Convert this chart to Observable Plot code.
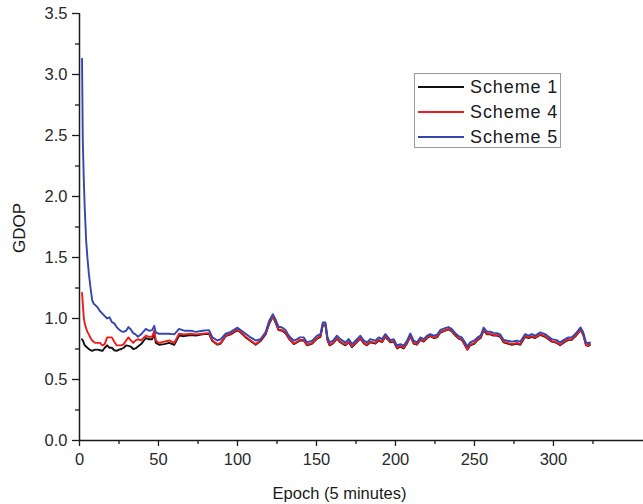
<!DOCTYPE html>
<html>
<head>
<meta charset="utf-8">
<script src="https://cdn.jsdelivr.net/npm/d3@7"></script>
<script src="https://cdn.jsdelivr.net/npm/@observablehq/plot@0.6"></script>
<style>
  html, body { margin: 0; padding: 0; background: #fff; }
  #wrap { position: relative; width: 643px; height: 504px; font-family: "Liberation Sans", Arial, sans-serif; }
  #legend { position: absolute; left: 414px; top: 73px; width: 147px; height: 75px; border: 1px solid #9a9a9a; background: #fff; box-sizing: border-box; }
  .item { position: absolute; left: 0; height: 20px; display: flex; align-items: center; }
  .swatch { width: 46px; height: 2px; margin-left: 3px; margin-right: 6px; }
  .lab { font-size: 18px; letter-spacing: 0.9px; color: #1a1a1a; line-height: 20px; }
</style>
</head>
<body>
<div id="wrap"></div>
<script>
// ---- data ----
const epoch = [
  1.6, 2.1, 2.7, 3.3, 4.2, 5, 5.9, 7, 8, 9, 10, 11.5, 13, 14.5, 16, 17.5, 19, 20.5, 22, 23.5, 25, 26.5, 28, 29.5, 31, 32.5, 34, 35.5, 37,
  39, 42, 44, 46, 47.3, 48.3, 50.4, 53.6, 56.7, 60, 63, 66.2, 70.4, 73.6, 77.8, 82, 84.1, 87.3, 89.4, 92.5, 95.7, 100, 102, 105.2, 108.3, 111.5, 114.6, 117.8,
  120, 122.4, 124, 126, 128.3, 130.4, 132.5, 135.7, 137.8, 139.5, 142, 144, 147.3, 150.4, 152.5, 154, 155.7, 157, 158.3, 160.5, 163, 165, 168.3, 170.4, 172.5, 174.7, 177.8, 180, 182, 184, 187.3, 189.4, 191.5, 193.6,
  196.8, 198.9, 201, 203.1, 205.2, 207.3, 209.4, 211.5, 213.6, 215.7, 217.9, 220, 222, 224.2, 226.3, 228.4, 231.5, 233.6, 235.7, 237.9, 240, 242, 244, 245.5, 247.3, 250, 252, 254, 255.8, 257.9, 260, 262, 264.2, 266.3, 268.4, 271, 273.7, 276.8, 279, 282.1, 284.2, 286.3, 288.4, 291.6, 294.7, 298.9, 302.1, 304.2, 307.4, 309.5, 311.6, 314.7, 317.2, 318.9, 320.6, 322.1, 323.1
];
const scheme1 = [
  0.83, 0.82, 0.80, 0.78, 0.77, 0.76, 0.75, 0.74, 0.735, 0.74, 0.745, 0.745, 0.74, 0.735, 0.76, 0.78, 0.76, 0.76, 0.74, 0.735, 0.745, 0.75, 0.76, 0.78, 0.775, 0.77, 0.75, 0.755, 0.77,
  0.79, 0.84, 0.83, 0.83, 0.88, 0.80, 0.785, 0.79, 0.80, 0.785, 0.86, 0.855, 0.865, 0.86, 0.87, 0.875, 0.815, 0.785, 0.795, 0.855, 0.87, 0.905, 0.885, 0.845, 0.815, 0.785, 0.815, 0.87,
  0.955, 1.015, 0.97, 0.905, 0.90, 0.88, 0.835, 0.79, 0.805, 0.82, 0.82, 0.78, 0.795, 0.835, 0.85, 0.945, 0.945, 0.82, 0.78, 0.795, 0.835, 0.805, 0.78, 0.805, 0.765, 0.795, 0.835, 0.795, 0.78, 0.805, 0.795, 0.82, 0.805, 0.85,
  0.805, 0.81, 0.755, 0.77, 0.755, 0.795, 0.855, 0.795, 0.785, 0.825, 0.81, 0.84, 0.855, 0.84, 0.845, 0.885, 0.90, 0.91, 0.895, 0.86, 0.835, 0.825, 0.78, 0.745, 0.78, 0.795, 0.825, 0.84, 0.905, 0.87, 0.87, 0.86, 0.86, 0.85, 0.805, 0.795, 0.785, 0.795, 0.785, 0.85, 0.84, 0.85, 0.84, 0.865, 0.85, 0.81, 0.80, 0.78, 0.81, 0.825, 0.825, 0.865, 0.905, 0.865, 0.78, 0.775, 0.785
];
const scheme4 = [
  1.21, 1.12, 1.01, 0.96, 0.92, 0.89, 0.87, 0.84, 0.82, 0.81, 0.80, 0.80, 0.80, 0.78, 0.79, 0.845, 0.845, 0.845, 0.81, 0.78, 0.78, 0.78, 0.79, 0.82, 0.845, 0.82, 0.80, 0.82, 0.83,
  0.82, 0.86, 0.85, 0.85, 0.90, 0.82, 0.80, 0.81, 0.82, 0.80, 0.875, 0.87, 0.875, 0.87, 0.875, 0.88, 0.82, 0.79, 0.80, 0.86, 0.875, 0.91, 0.89, 0.85, 0.82, 0.79, 0.82, 0.875,
  0.96, 1.02, 0.975, 0.91, 0.905, 0.885, 0.84, 0.795, 0.81, 0.825, 0.825, 0.785, 0.80, 0.84, 0.855, 0.95, 0.95, 0.825, 0.785, 0.80, 0.84, 0.81, 0.785, 0.81, 0.77, 0.80, 0.84, 0.80, 0.785, 0.81, 0.80, 0.825, 0.81, 0.855,
  0.81, 0.815, 0.76, 0.775, 0.76, 0.80, 0.86, 0.80, 0.79, 0.83, 0.815, 0.845, 0.86, 0.845, 0.85, 0.89, 0.905, 0.915, 0.90, 0.865, 0.84, 0.83, 0.785, 0.745, 0.785, 0.80, 0.83, 0.845, 0.91, 0.875, 0.875, 0.865, 0.865, 0.855, 0.81, 0.80, 0.79, 0.80, 0.79, 0.855, 0.845, 0.855, 0.845, 0.87, 0.855, 0.815, 0.805, 0.785, 0.815, 0.83, 0.83, 0.87, 0.91, 0.87, 0.785, 0.78, 0.79
];
const scheme5 = [
  3.13, 2.45, 2.15, 1.91, 1.64, 1.50, 1.37, 1.25, 1.15, 1.12, 1.11, 1.09, 1.06, 1.04, 1.02, 1.00, 1.01, 0.97, 0.96, 0.93, 0.91, 0.895, 0.89, 0.90, 0.93, 0.91, 0.88, 0.87, 0.85,
  0.87, 0.915, 0.90, 0.905, 0.94, 0.885, 0.875, 0.875, 0.875, 0.87, 0.915, 0.90, 0.90, 0.89, 0.90, 0.905, 0.845, 0.82, 0.83, 0.875, 0.89, 0.925, 0.905, 0.875, 0.845, 0.82, 0.83, 0.89,
  0.98, 1.035, 0.995, 0.932, 0.926, 0.905, 0.859, 0.818, 0.831, 0.845, 0.845, 0.804, 0.818, 0.859, 0.872, 0.967, 0.967, 0.845, 0.804, 0.818, 0.859, 0.831, 0.804, 0.831, 0.79, 0.818, 0.859, 0.818, 0.804, 0.831, 0.818, 0.845, 0.831, 0.872,
  0.823, 0.831, 0.777, 0.79, 0.777, 0.818, 0.877, 0.818, 0.804, 0.845, 0.831, 0.859, 0.872, 0.859, 0.867, 0.906, 0.921, 0.93, 0.913, 0.88, 0.855, 0.845, 0.805, 0.77, 0.805, 0.82, 0.845, 0.862, 0.926, 0.892, 0.892, 0.882, 0.88, 0.87, 0.825, 0.818, 0.81, 0.818, 0.81, 0.872, 0.859, 0.872, 0.859, 0.886, 0.872, 0.831, 0.823, 0.804, 0.831, 0.845, 0.845, 0.886, 0.927, 0.886, 0.804, 0.796, 0.804
];
const seriesNames = ["Scheme 1", "Scheme 4", "Scheme 5"];
const xMajorTicks = [0, 50, 100, 150, 200, 250, 300];
const xMinorTicks = [25, 75, 125, 175, 225, 275, 325];
const yMajorTicks = [0.0, 0.5, 1.0, 1.5, 2.0, 2.5, 3.0, 3.5];
const yMinorTicks = [0.25, 0.75, 1.25, 1.75, 2.25, 2.75, 3.25];
const xTitle = "Epoch (5 minutes)";
const yTitle = "GDOP";

// ---- styling ----
const colors = ["#111111", "#ee1c1c", "#3347b0"];
const pts = (vals) => epoch.map((e, i) => [e, vals[i]]);
const allSeries = [scheme1, scheme4, scheme5];
const font = "'Liberation Sans', Arial, sans-serif";
const axisColor = "#1a1a1a";

const chart = Plot.plot({
  width: 643,
  height: 504,
  marginLeft: 79,
  marginRight: 0,
  marginTop: 13,
  marginBottom: 64,
  style: { fontFamily: font, fontSize: "16.5px", color: "#2a2a2a", background: "white", overflow: "visible" },
  x: { domain: [0, 357] },
  y: { domain: [0, 3.5] },
  marks: [
    ...allSeries.map((vals, i) => Plot.line(pts(vals), { stroke: colors[i], strokeWidth: 1.9, strokeLinejoin: "round" })),
    Plot.ruleX([0], { stroke: axisColor, strokeWidth: 1.5 }),
    Plot.ruleY([0], { stroke: axisColor, strokeWidth: 1.5 }),
    Plot.axisY({ ticks: yMajorTicks, tickSize: 7, tickPadding: 5, tickFormat: d3.format(".1f"), label: null, stroke: axisColor, strokeWidth: 1.3, style: "letter-spacing:0.8px" }),
    Plot.axisY({ ticks: yMinorTicks, tickSize: 4, tickFormat: () => "", label: null, stroke: axisColor, strokeWidth: 1.3 }),
    Plot.axisX({ ticks: xMajorTicks, tickSize: 6, tickPadding: 7, tickFormat: d3.format("d"), label: null, stroke: axisColor, strokeWidth: 1.3, style: "letter-spacing:0.8px" }),
    Plot.axisX({ ticks: xMinorTicks, tickSize: 4, tickFormat: () => "", label: null, stroke: axisColor, strokeWidth: 1.3 }),
    Plot.text([xTitle], { frameAnchor: "bottom", dx: -22, dy: 53, fontSize: 16.5, fill: "#1a1a1a", text: d => d, lineAnchor: "middle" }),
    Plot.text([yTitle], { frameAnchor: "left", dx: -60, dy: 26, rotate: -90, fontSize: 17, fill: "#1a1a1a", text: d => d, lineAnchor: "middle" })
  ]
});

const wrap = document.getElementById("wrap");
wrap.appendChild(chart);

// legend
const legend = document.createElement("div");
legend.id = "legend";
seriesNames.forEach((name, i) => {
  const item = document.createElement("div");
  item.className = "item";
  item.style.top = (3 + i * 25) + "px";
  const sw = document.createElement("div");
  sw.className = "swatch";
  sw.style.background = colors[i];
  const lab = document.createElement("span");
  lab.className = "lab";
  lab.textContent = name;
  item.appendChild(sw);
  item.appendChild(lab);
  legend.appendChild(item);
});
wrap.appendChild(legend);
</script>
</body>
</html>
